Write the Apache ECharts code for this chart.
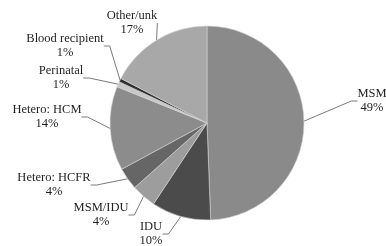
<!DOCTYPE html>
<html>
<head>
<meta charset="utf-8">
<script src="https://cdn.jsdelivr.net/npm/echarts@6/dist/echarts.min.js"></script>
<style>
    html, body { margin: 0; padding: 0; background: #fff; }
    #chart { width: 386px; height: 246px; }
</style>
</head>
<body>
<div id="chart"></div>
<script>
/* ===== Data ===== */
const categories = ['MSM', 'IDU', 'MSM/IDU', 'Hetero: HCFR', 'Hetero: HCM', 'Perinatal', 'Blood recipient', 'Other/unk'];
const shares = [49.4, 9.9, 4.1, 3.7, 14.0, 0.9, 0.6, 17.4];
const sliceColors = ['#8a8a8a', '#4b4b4b', '#9d9d9d', '#666666', '#8c8c8c', '#c8c8c8', '#2e2e2e', '#a8a8a8'];

// label centres (px), same order as categories
const labelPos = [
    [372, 101], [151, 234], [101, 215], [54, 185],
    [47, 117], [61, 78], [65, 46], [132, 23]
];

const serifFont = 'Liberation Serif';

const chart = echarts.init(document.getElementById('chart'));

const option = {
    animation: false,
    textStyle: { fontFamily: serifFont },
    series: [{
        type: 'pie',
        center: [207, 123],
        radius: 97,
        startAngle: 90,
        clockwise: true,
        avoidLabelOverlap: false,
        itemStyle: {
            borderColor: '#d4d4d4',
            borderWidth: 0.6
        },
        label: {
            show: true,
            fontFamily: serifFont,
            fontSize: 12.5,
            lineHeight: 14,
            color: '#1f1f1f',
            formatter: p => p.name + '\n' + Math.round(p.value) + '%'
        },
        labelLine: {
            show: true,
            length: 10,
            length2: 6,
            smooth: false,
            lineStyle: { color: '#7a7a7a', width: 1 }
        },
        labelLayout: params => {
            const pos = labelPos[params.dataIndex];
            return { x: pos[0], y: pos[1], align: 'center', verticalAlign: 'middle' };
        },
        data: categories.map((name, i) => ({
            name: name,
            value: shares[i],
            itemStyle: { color: sliceColors[i] }
        }))
    }]
};

chart.setOption(option);
</script>
</body>
</html>
